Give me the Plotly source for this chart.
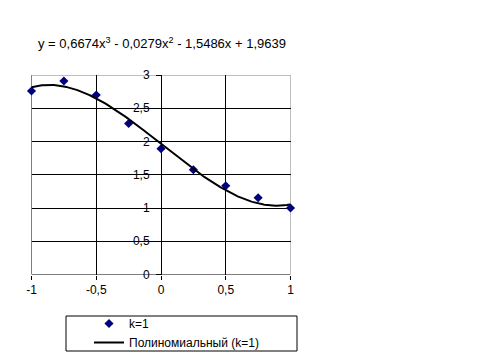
import numpy as np
import plotly.graph_objects as go

# Data
x_vals = [-1.0, -0.75, -0.5, -0.25, 0.0, 0.25, 0.5, 0.75, 1.0]
y_vals = [2.76, 2.91, 2.70, 2.27, 1.89, 1.575, 1.335, 1.155, 1.0]
trend_coeffs = [0.6674, -0.0279, -1.5486, 1.9639]  # cubic, highest power first
x_tickvals = [-1, -0.5, 0, 0.5, 1]
x_ticktext = ["-1", "-0,5", "0", "0,5", "1"]
y_tickvals = [0, 0.5, 1, 1.5, 2, 2.5, 3]
y_ticktext = ["0", "0,5", "1", "1,5", "2", "2,5", "3"]
series_name = "k=1"
trend_name = "Полиномиальный (k=1)"
equation = "y = 0,6674x<sup>3</sup> - 0,0279x<sup>2</sup> - 1,5486x + 1,9639"

W, H = 486, 360
OFF = 8  # default page body margin
FONT = "Liberation Sans, Arial, sans-serif"


def px(xp):
    return (xp - OFF) / W


def py(yp):
    return 1 - (yp - OFF) / H


xt = np.linspace(min(x_vals), max(x_vals), 300)
yt = np.polyval(trend_coeffs, xt)

fig = go.Figure()
fig.add_trace(go.Scatter(
    x=x_vals, y=y_vals, mode="markers", name=series_name,
    marker=dict(symbol="diamond", size=7, color="#000080"),
    cliponaxis=False,
))
fig.add_trace(go.Scatter(
    x=xt, y=yt, mode="lines", name=trend_name,
    line=dict(color="black", width=2),
    cliponaxis=False,
))

px_left, px_right = 31.5, 290.5
px_top, px_bottom = 75, 274.5

fig.update_layout(
    width=W, height=H,
    margin=dict(l=0, r=0, t=0, b=0, autoexpand=False),
    paper_bgcolor="white", plot_bgcolor="white",
    font=dict(family=FONT, size=12, color="black"),
    showlegend=True,
    legend=dict(
        x=px(89), y=py(309), xanchor="left", yanchor="top",
        bgcolor="rgba(0,0,0,0)", borderwidth=0,
        font=dict(family=FONT, size=12, color="black"),
    ),
    xaxis=dict(
        domain=[px(px_left), px(px_right)], range=[-1, 1],
        tickvals=x_tickvals, ticktext=x_ticktext,
        showgrid=True, gridcolor="black", gridwidth=1, zeroline=False,
        showline=False, ticks="outside", ticklen=4, tickcolor="black",
        anchor="y", tickfont=dict(family=FONT, size=12), automargin=False,
    ),
    yaxis=dict(
        domain=[py(px_bottom), py(px_top)], range=[0, 3],
        tickvals=y_tickvals, ticktext=y_ticktext,
        showgrid=True, gridcolor="black", gridwidth=1, zeroline=False,
        showline=True, linecolor="black", linewidth=1,
        ticks="outside", ticklen=5, tickcolor="black",
        anchor="free", position=px((px_left + px_right) / 2), ticklabelstandoff=4,
        tickfont=dict(family=FONT, size=12), automargin=False,
    ),
    shapes=[
        dict(type="line", xref="x", yref="y", x0=-1, x1=1, y0=0, y1=0,
             line=dict(color="black", width=1), layer="below"),
        dict(type="line", xref="x", yref="y", x0=-1, x1=-1, y0=0, y1=3,
             line=dict(color="black", width=1), layer="below"),
        dict(type="line", xref="x", yref="y", x0=-1, x1=1, y0=3, y1=3,
             line=dict(color="#808080", width=1), layer="below"),
        dict(type="line", xref="x", yref="y", x0=1, x1=1, y0=0, y1=3,
             line=dict(color="#808080", width=1), layer="below"),
        dict(type="rect", xref="paper", yref="paper",
             x0=px(66), x1=px(297), y0=py(351), y1=py(316),
             line=dict(color="black", width=1), fillcolor="rgba(0,0,0,0)"),
    ],
    annotations=[
        dict(text=equation, xref="paper", yref="paper",
             x=px(162), y=py(43), xanchor="center", yanchor="middle",
             showarrow=False, font=dict(family=FONT, size=13, color="black")),
    ],
)

fig.write_html("out.html")
